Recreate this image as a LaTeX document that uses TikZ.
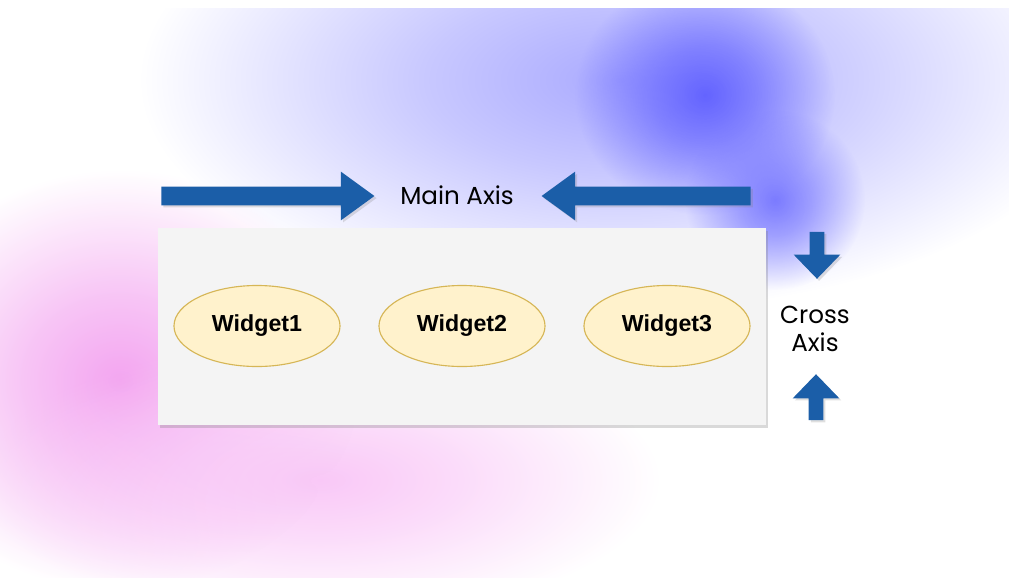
\documentclass[tikz,border=0pt]{standalone}
\usepackage{fontspec}
\setmainfont{Liberation Sans}
\newfontfamily\axisfont{Poppins}
\usetikzlibrary{shapes.geometric,shapes.arrows,shadows,fadings}
\definecolor{axisblue}{RGB}{27,94,168}
\definecolor{boxgray}{RGB}{244,244,244}
\definecolor{widgetfill}{RGB}{255,242,204}
\definecolor{widgetline}{RGB}{214,182,86}
\definecolor{lavender}{RGB}{170,170,255}
\definecolor{violetdark}{RGB}{100,100,255}
\definecolor{pinkglow}{RGB}{243,165,240}
\definecolor{pinklight}{RGB}{249,200,247}
% soft round glow, opaque in the middle and gone at the rim (rim sits at 25bp)
\pgfdeclareradialshading{blob-shade}{\pgfpointorigin}{color(0bp)=(pgftransparent!0); color(10bp)=(pgftransparent!35); color(25bp)=(pgftransparent!100); color(50bp)=(pgftransparent!100)}
\pgfdeclarefading{blob-fade}{\pgfuseshading{blob-shade}}
\tikzset{
    row-box/.style = {fill=boxgray, rectangle, minimum width=152mm, minimum height=49.25mm, drop shadow={opacity=0.3, shadow xshift=1.5pt, shadow yshift=-2pt}},
    widget-box/.style = {draw=widgetline, fill=widgetfill, thick, ellipse, minimum width=41.5mm, minimum height=20.25mm, font=\fontsize{16.5}{19}\selectfont\bfseries},
    axis-arrow/.style = {single arrow, fill=axisblue, inner sep=0pt, text depth=0pt, drop shadow={opacity=0.25, shadow xshift=1.5pt, shadow yshift=-1.5pt}},
    main-arrow/.style = {axis-arrow, text height=4.5mm, minimum width=12mm, single arrow head extend=3.75mm, single arrow tip angle=72},
    cross-arrow/.style = {axis-arrow, text height=3.5mm, minimum width=11.5mm, single arrow head extend=4mm, single arrow tip angle=88},
    axis-label/.style = {font=\axisfont\fontsize{17.5}{20}\selectfont, text=black, align=center},
    blob/.style = {path fading=blob-fade},
}

\begin{document}
\begin{tikzpicture}[x=0.025cm, y=-0.025cm]
\useasboundingbox (0,0) rectangle (1009,581);
\begin{scope}
\clip (0,8) rectangle (1009,577);
\fill[blob, lavender] (620,80) ellipse (480 and 230);
\fill[blob, violetdark] (705,95) ellipse (130 and 120);
\fill[blob, violetdark!85] (775,200) ellipse (90 and 90);
\fill[blob, pinkglow] (120,380) ellipse (240 and 210);
\fill[blob, pinklight] (320,480) ellipse (340 and 140);
\end{scope}

\node[row-box] (row) at (462,326.5) {};
\node[widget-box] (w1) at (257,326) {Widget1};
\node[widget-box] (w2) at (462,326) {Widget2};
\node[widget-box] (w3) at (667,326) {Widget3};

\node[axis-label] (main) at (457,195) {Main Axis};
\node[main-arrow, minimum height=53.25mm] (main-in) at (261.5,196) {};
\node[main-arrow, minimum height=52.25mm, rotate=180] (main-back) at (652.5,196) {};

\node[axis-label] (cross) at (815,329) {Cross\\Axis};
\node[cross-arrow, minimum height=11.75mm, rotate=-90] (cross-down) at (817,251.5) {};
\node[cross-arrow, minimum height=11.5mm, rotate=90] (cross-up) at (816,401) {};
\end{tikzpicture}
\end{document}
